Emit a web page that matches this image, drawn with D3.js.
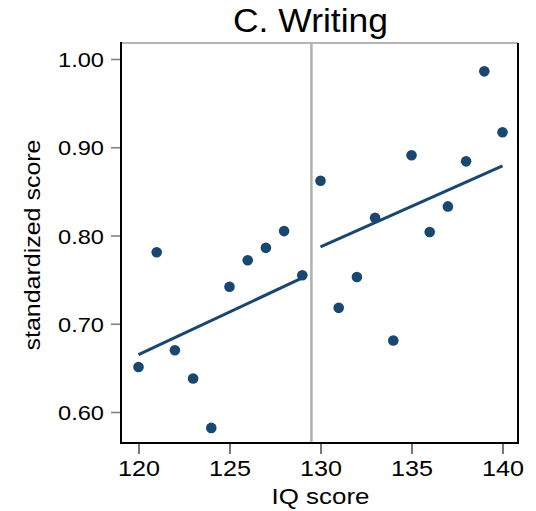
<!DOCTYPE html>
<html>
<head>
<meta charset="utf-8">
<script src="https://cdn.jsdelivr.net/npm/d3@7"></script>
<style>
  html, body { margin: 0; padding: 0; background: #fff; }
  svg { display: block; }
</style>
</head>
<body>
<svg id="chart" width="536" height="511"></svg>
<script>
// ---- data ----
const iq = [120,121,122,123,124,125,126,127,128,129,130,131,132,133,134,135,136,137,138,139,140];
const score = [0.651,0.781,0.670,0.638,0.582,0.742,0.772,0.786,0.805,0.755,
               0.862,0.718,0.753,0.820,0.681,0.891,0.804,0.833,0.884,0.986,0.917];
const fitLeftX = [120, 129];
const fitLeftY = [0.665, 0.752];
const fitRightX = [130, 140];
const fitRightY = [0.787, 0.879];
const cutoff = 129.5;
const xTicks = [120,125,130,135,140];
const yTicks = [0.60,0.70,0.80,0.90,1.00];
const title = "C. Writing";
const xTitle = "IQ score";
const yTitle = "standardized score";

// ---- layout ----
const svg = d3.select("#chart");
const frame = {left:121, right:518, top:43, bottom:443};
const x = d3.scaleLinear().domain([120,140]).range([138.5,502.5]);
const y = d3.scaleLinear().domain([0.6,1.0]).range([412,59]);
const navy = "#1a476f";
const font = "'Liberation Sans', Arial, sans-serif";

// title
svg.append("text").attr("x", 310.5).attr("y", 32)
  .attr("text-anchor","middle").attr("font-family",font).attr("font-size",34)
  .attr("textLength",155).attr("lengthAdjust","spacingAndGlyphs")
  .text(title);

// frame
svg.append("line").attr("x1",frame.left).attr("x2",frame.right).attr("y1",frame.top).attr("y2",frame.top)
  .attr("stroke","#b4b4b4").attr("stroke-width",2);
svg.append("line").attr("x1",frame.right).attr("x2",frame.right).attr("y1",frame.top).attr("y2",frame.bottom)
  .attr("stroke","#000").attr("stroke-width",2);

// cutoff line
svg.append("line").attr("x1",x(cutoff)).attr("x2",x(cutoff)).attr("y1",frame.top).attr("y2",frame.bottom)
  .attr("stroke","#b0b0b0").attr("stroke-width",2.5);

// axes
const yAxis = d3.axisLeft(y).tickValues(yTicks).tickFormat(d3.format(".2f")).tickSize(10).tickPadding(7);
const gy = svg.append("g").attr("transform",`translate(${frame.left},0)`).call(yAxis);
gy.select(".domain").remove();
gy.selectAll(".tick line").attr("stroke","#808080").attr("stroke-width",1.6);
gy.selectAll(".tick text").attr("font-family",font).attr("font-size",21).attr("fill","#000")
  .attr("textLength",46).attr("lengthAdjust","spacingAndGlyphs").attr("dy","0.36em");

const xAxis = d3.axisBottom(x).tickValues(xTicks).tickFormat(d3.format("d")).tickSize(11).tickPadding(6);
const gx = svg.append("g").attr("transform",`translate(0,${frame.bottom})`).call(xAxis);
gx.select(".domain").remove();
gx.selectAll(".tick line").attr("stroke","#555").attr("stroke-width",1.6);
gx.selectAll(".tick text").attr("font-family",font).attr("font-size",22).attr("fill","#000")
  .attr("textLength",42).attr("lengthAdjust","spacingAndGlyphs");

// left & bottom frame (black)
svg.append("line").attr("x1",frame.left).attr("x2",frame.left).attr("y1",frame.top-1).attr("y2",frame.bottom+1)
  .attr("stroke","#000").attr("stroke-width",2);
svg.append("line").attr("x1",frame.left-1).attr("x2",frame.right+1).attr("y1",frame.bottom).attr("y2",frame.bottom)
  .attr("stroke","#000").attr("stroke-width",2);

// axis titles
svg.append("text").attr("x",320.5).attr("y",504).attr("text-anchor","middle")
  .attr("font-family",font).attr("font-size",22)
  .attr("textLength",98).attr("lengthAdjust","spacingAndGlyphs").text(xTitle);
svg.append("text").attr("transform","translate(40,245) rotate(-90)").attr("text-anchor","middle")
  .attr("font-family",font).attr("font-size",21.5)
  .attr("textLength",211).attr("lengthAdjust","spacingAndGlyphs").text(yTitle);

// fit lines
const line = d3.line().x(d => x(d[0])).y(d => y(d[1]));
svg.append("path").datum(d3.zip(fitLeftX, fitLeftY)).attr("d", line)
  .attr("fill","none").attr("stroke",navy).attr("stroke-width",3);
svg.append("path").datum(d3.zip(fitRightX, fitRightY)).attr("d", line)
  .attr("fill","none").attr("stroke",navy).attr("stroke-width",3);

// points
svg.append("g").selectAll("circle").data(d3.zip(iq, score)).join("circle")
  .attr("cx", d => x(d[0])).attr("cy", d => y(d[1])).attr("r", 5.3).attr("fill", navy);
</script>
</body>
</html>
